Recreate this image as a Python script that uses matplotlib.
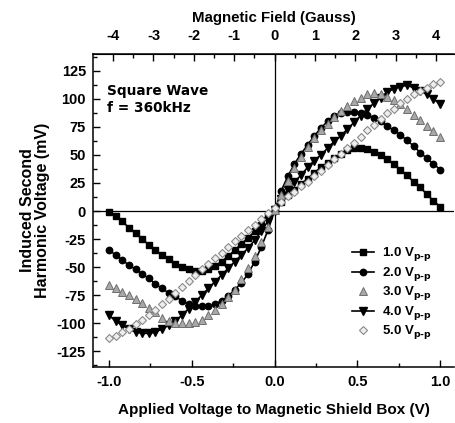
import matplotlib
matplotlib.use('Agg')
import matplotlib.pyplot as plt
from matplotlib.ticker import MultipleLocator, FormatStrFormatter, FixedLocator

plt.rcParams['font.family'] = ['Liberation Sans', 'DejaVu Sans']
plt.rcParams['font.weight'] = 'bold'
plt.rcParams['axes.labelweight'] = 'bold'
plt.rcParams['axes.unicode_minus'] = False
plt.rcParams['mathtext.default'] = 'bf'

# applied voltage (V)
volts = [-1.00, -0.96, -0.92, -0.88, -0.84, -0.80, -0.76, -0.72, -0.68, -0.64,
         -0.60, -0.56, -0.52, -0.48, -0.44, -0.40, -0.36, -0.32, -0.28, -0.24,
         -0.20, -0.16, -0.12, -0.08, -0.04, 0.00, 0.04, 0.08, 0.12, 0.16,
         0.20, 0.24, 0.28, 0.32, 0.36, 0.40, 0.44, 0.48, 0.52, 0.56,
         0.60, 0.64, 0.68, 0.72, 0.76, 0.80, 0.84, 0.88, 0.92, 0.96, 1.00]

# induced second harmonic voltage (mV)
v1 = [-1, -4, -9, -15, -20, -25, -30, -35, -39, -43,
      -47, -50, -52, -53, -53, -52, -49, -45, -40, -35,
      -29, -24, -18, -12, -5, 2, 8, 14, 19, 24,
      29, 34, 39, 43, 47, 51, 54, 56, 56, 55,
      53, 50, 46, 42, 37, 32, 26, 21, 15, 9, 4]
v2 = [-35, -39, -44, -48, -52, -56, -60, -65, -69, -73,
      -76, -80, -83, -85, -85, -85, -83, -80, -76, -70,
      -64, -56, -45, -32, -17, 0, 18, 31, 42, 51,
      59, 67, 74, 80, 85, 87, 88, 88, 87, 86,
      83, 80, 76, 72, 68, 63, 58, 52, 47, 42, 37]
v3 = [-66, -69, -72, -75, -78, -82, -86, -90, -95, -98,
      -100, -100, -100, -99, -97, -93, -88, -83, -77, -70,
      -61, -51, -40, -28, -14, 1, 14, 27, 38, 48,
      57, 65, 72, 78, 84, 89, 94, 98, 101, 104,
      105, 104, 102, 99, 95, 91, 86, 81, 76, 71, 66]
v4 = [-93, -98, -102, -105, -108, -109, -109, -108, -105, -102,
      -98, -93, -87, -81, -75, -69, -63, -57, -51, -45,
      -39, -33, -26, -18, -9, 1, 11, 19, 26, 32,
      39, 45, 50, 56, 62, 67, 73, 79, 85, 91,
      96, 101, 106, 109, 111, 112, 110, 107, 104, 100, 95]
v5 = [-113, -111, -108, -105, -101, -97, -93, -88, -83, -78,
      -73, -68, -62, -57, -52, -47, -42, -37, -32, -27,
      -22, -17, -12, -7, -2, 3, 8, 13, 17, 22,
      26, 31, 36, 41, 46, 51, 56, 61, 66, 72,
      77, 82, 87, 91, 96, 100, 104, 107, 110, 113, 115]

labels = [r'1.0 V$^{\ }_{p\text{-}p}$', r'2.0 V$^{\ }_{p\text{-}p}$', r'3.0 V$^{\ }_{p\text{-}p}$',
          r'4.0 V$^{\ }_{p\text{-}p}$', r'5.0 V$^{\ }_{p\text{-}p}$']
gauss_ticks = [-4, -3, -2, -1, 0, 1, 2, 3, 4]
gauss_per_volt = 4.1

fig = plt.figure(figsize=(4.55, 4.23), dpi=100)
ax = fig.add_axes([0.2044, 0.1324, 0.7934, 0.740])

ax.axhline(0, color='black', lw=0.9, zorder=1)
ax.axvline(0, color='black', lw=0.9, zorder=1)

ax.plot(volts, v1, color='black', lw=1.2, marker='s', ms=4.0, label=labels[0], zorder=3)
ax.plot(volts, v2, color='black', lw=1.2, marker='o', ms=4.6, label=labels[1], zorder=3)
ax.plot(volts, v3, ls='none', marker='^', ms=5.2, mfc='#a8a8a8', mec='#6e6e6e',
        mew=0.7, label=labels[2], zorder=4)
ax.plot(volts, v4, color='black', lw=1.2, marker='v', ms=5.2, label=labels[3], zorder=3)
ax.plot(volts, v5, ls='none', marker='D', ms=4.0, mfc='#eeeeee', mec='#8a8a8a',
        mew=0.8, label=labels[4], zorder=4)

ax.set_xlim(-1.097, 1.084)
ax.set_ylim(-139, 140)
ax.xaxis.set_major_locator(MultipleLocator(0.5))
ax.xaxis.set_minor_locator(MultipleLocator(0.25))
ax.yaxis.set_major_locator(MultipleLocator(25))
ax.yaxis.set_minor_locator(MultipleLocator(12.5))
ax.xaxis.set_major_formatter(FormatStrFormatter('%.1f'))
ax.tick_params(which='both', direction='in', labelsize=10.5, width=1.0)
ax.tick_params(which='major', length=5)
ax.tick_params(which='minor', length=3)
ax.tick_params(axis='x', pad=6)
ax.tick_params(axis='y', pad=5)
ax.spines['right'].set_visible(False)
for s in ['left', 'bottom', 'top']:
    ax.spines[s].set_linewidth(1.1)

ax.set_xlabel('Applied Voltage to Magnetic Shield Box (V)', fontsize=11, labelpad=10)
ax.set_ylabel('Induced Second\nHarmonic Voltage (mV)', fontsize=11.5, labelpad=5,
              linespacing=1.0)

top = ax.secondary_xaxis('top', functions=(lambda v: v * gauss_per_volt,
                                           lambda g: g / gauss_per_volt))
top.xaxis.set_major_locator(FixedLocator(gauss_ticks))
top.xaxis.set_minor_locator(FixedLocator([g + 0.5 for g in gauss_ticks[:-1]] + [-4.5]))
top.tick_params(which='both', direction='in', labelsize=10.5, width=1.0, pad=8)
top.tick_params(which='major', length=5)
top.tick_params(which='minor', length=3)
top.set_xlabel('Magnetic Field (Gauss)', fontsize=10.8, labelpad=5)

ax.text(0.04, 0.905, 'Square Wave\nf = 360kHz', transform=ax.transAxes,
        fontsize=9.8, va='top', ha='left', linespacing=1.3, family='DejaVu Sans')

ax.legend(loc='lower right', bbox_to_anchor=(0.965, 0.05), frameon=False,
          fontsize=9.5, handlelength=1.7, handletextpad=0.6, labelspacing=0.08,
          borderpad=0.2)

fig.savefig('out.png', dpi=100)
